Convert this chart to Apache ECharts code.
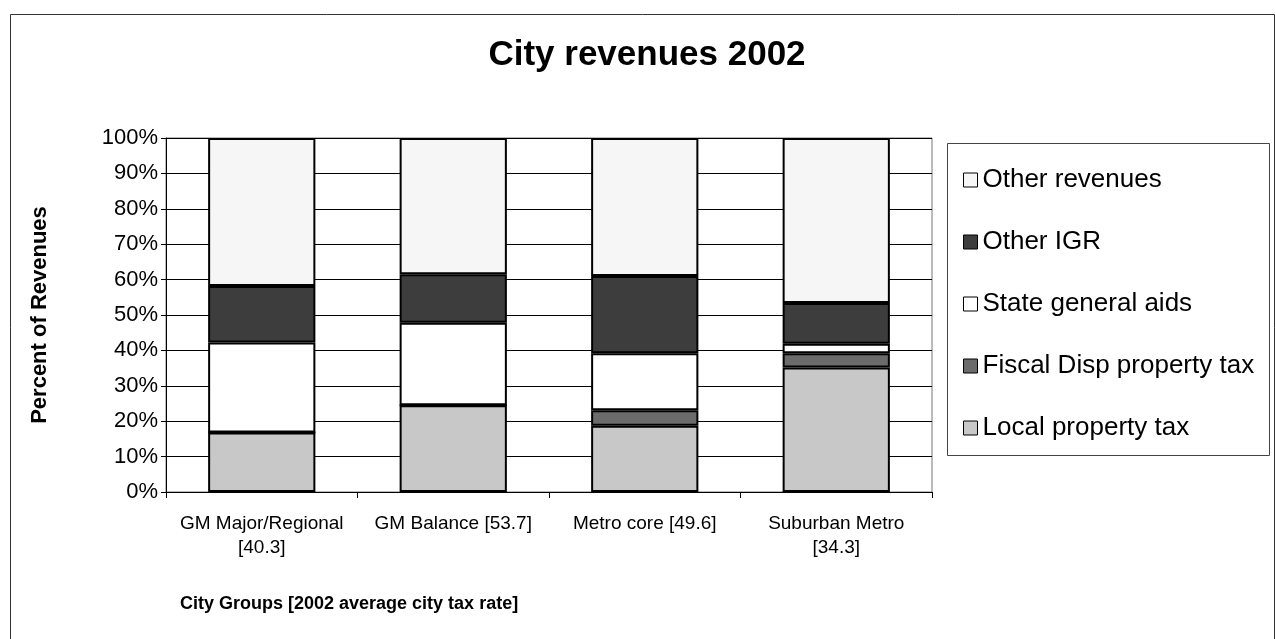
<!DOCTYPE html>
<html>
<head>
<meta charset="utf-8">
<script src="https://cdn.jsdelivr.net/npm/echarts@6/dist/echarts.min.js"></script>
<style>
html,body{margin:0;padding:0;background:#fff;}
#chart{width:1275px;height:639px;}
</style>
</head>
<body>
<div id="chart"></div>
<script>
const categories = ["GM Major/Regional\n[40.3]", "GM Balance [53.7]", "Metro core [49.6]", "Suburban Metro\n[34.3]"];
const localPropertyTax = [16.8, 24.5, 18.7, 35.2];
const fiscalDispPropertyTax = [0, 0, 4.4, 4.0];
const stateGeneralAids = [25.4, 23.3, 16.1, 2.7];
const otherIGR = [16.0, 13.7, 21.8, 11.5];
const otherRevenues = [41.8, 38.5, 39.0, 46.6];
const yTicks = [0, 10, 20, 30, 40, 50, 60, 70, 80, 90, 100];
const legendOrder = ["Other revenues", "Other IGR", "State general aids", "Fiscal Disp property tax", "Local property tax"];

const font = "Liberation Sans, Arial, sans-serif";
const chart = echarts.init(document.getElementById('chart'));

function bar(name, data, color) {
  return {
    name: name, type: 'bar', stack: 'total', data: data,
    barCategoryGap: '44%',
    itemStyle: { color: color, borderColor: '#000', borderWidth: 2 },
    emphasis: { disabled: true }
  };
}

chart.setOption({
  animation: false,
  backgroundColor: '#fff',
  title: [
    { text: 'City revenues 2002', left: 642, top: 33, textAlign: 'center',
      textStyle: { fontFamily: font, fontSize: 35, fontWeight: 'bold', color: '#000' } },
    { text: 'City Groups [2002 average city tax rate]', left: 175, top: 590,
      textStyle: { fontFamily: font, fontSize: 18, fontWeight: 'bold', color: '#000' } }
  ],
  grid: { left: 166, right: 343, top: 138, bottom: 147, show: true, borderColor: '#777', borderWidth: 1 },
  legend: {
    data: legendOrder.map(n => ({ name: n, icon: 'rect' })),
    orient: 'vertical', left: 958, top: 162,
    itemWidth: 14, itemHeight: 14, itemGap: 36,
    textStyle: { fontFamily: font, fontSize: 26, color: '#000', padding: [0, 0, 0, 0] },
    itemStyle: { borderColor: '#000', borderWidth: 1 },
    selectedMode: false
  },
  xAxis: {
    type: 'category', data: categories,
    axisLine: { lineStyle: { color: '#000', width: 1 } },
    axisTick: { show: true, length: 6, lineStyle: { color: '#000' } },
    axisLabel: { fontFamily: font, fontSize: 19, color: '#000', margin: 20, lineHeight: 24, interval: 0 }
  },
  yAxis: {
    type: 'value', min: 0, max: 100, interval: 10,
    name: 'Percent of Revenues', nameLocation: 'middle', nameGap: 115, nameRotate: 90,
    nameTextStyle: { fontFamily: font, fontSize: 22, fontWeight: 'bold', color: '#000' },
    axisLine: { show: true, lineStyle: { color: '#000' } },
    axisTick: { show: true, length: 5, lineStyle: { color: '#000' } },
    axisLabel: { fontFamily: font, fontSize: 22, color: '#000', margin: 8,
      formatter: v => yTicks.indexOf(v) >= 0 ? v + '%' : '' },
    splitLine: { show: true, lineStyle: { color: '#000', width: 1 } }
  },
  graphic: [
    { type: 'rect', left: 8, top: 12, shape: { width: 1264, height: 640 },
      style: { fill: 'none', stroke: '#333', lineWidth: 1 }, silent: true, z: -1 },
    { type: 'rect', left: 947, top: 143, shape: { width: 322, height: 312 },
      style: { fill: '#fff', stroke: '#444', lineWidth: 1 }, silent: true, z: 0 }
  ],
  series: [
    bar('Local property tax', localPropertyTax, '#c8c8c8'),
    bar('Fiscal Disp property tax', fiscalDispPropertyTax, '#6b6b6b'),
    bar('State general aids', stateGeneralAids, '#ffffff'),
    bar('Other IGR', otherIGR, '#3d3d3d'),
    bar('Other revenues', otherRevenues, '#f6f6f6')
  ]
});
</script>
</body>
</html>
